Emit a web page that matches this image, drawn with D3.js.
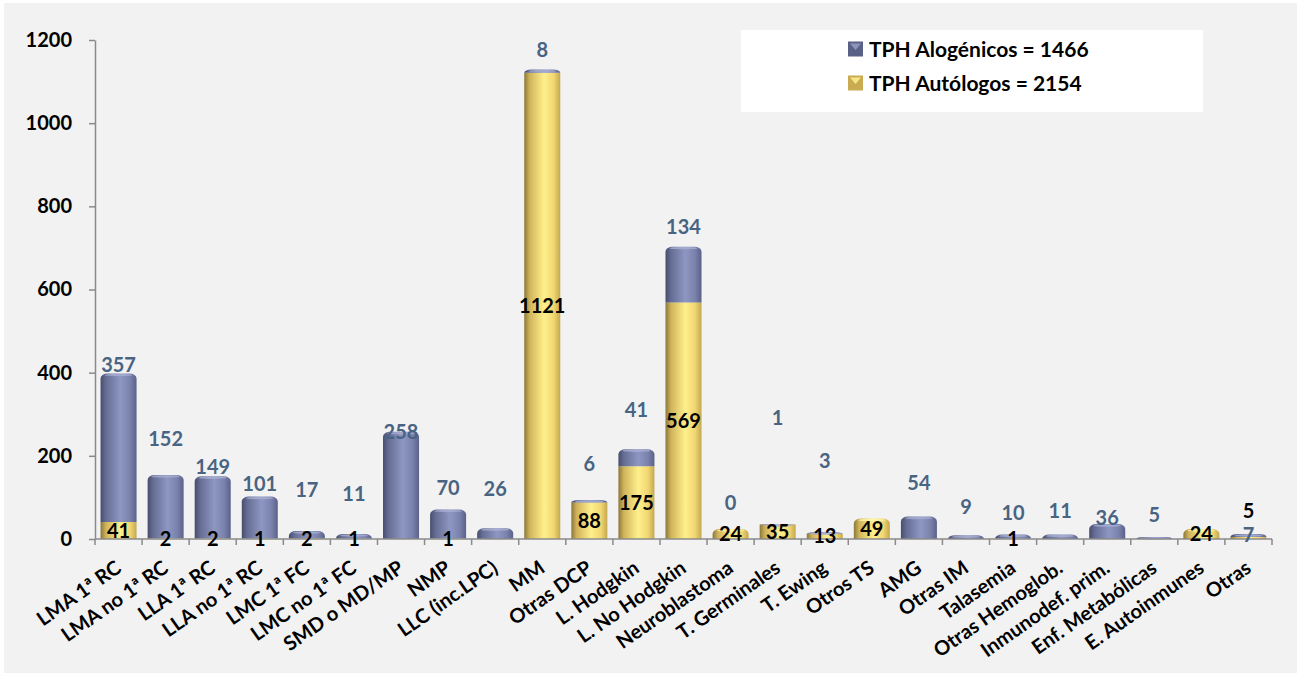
<!DOCTYPE html>
<html>
<head>
<meta charset="utf-8">
<script src="https://cdn.jsdelivr.net/npm/d3@7"></script>
<style>
  body { margin: 0; background: #fff; }
  text { font-family: Lato, 'Open Sans', sans-serif; font-weight: bold; }
</style>
</head>
<body>
<div id="chart"></div>
<script>
const categories = [
  'LMA 1ª RC', 'LMA no 1ª RC', 'LLA 1ª RC', 'LLA no 1ª RC', 'LMC 1ª FC', 'LMC no 1ª FC',
  'SMD o MD/MP', 'NMP', 'LLC (inc.LPC)', 'MM', 'Otras DCP', 'L. Hodgkin', 'L. No Hodgkin',
  'Neuroblastoma', 'T. Germinales', 'T. Ewing', 'Otros TS', 'AMG', 'Otras IM', 'Talasemia',
  'Otras Hemoglob.', 'Inmunodef. prim.', 'Enf. Metabólicas', 'E. Autoinmunes', 'Otras'
];
const alogenicos = [357, 152, 149, 101, 17, 11, 258, 70, 26, 8, 6, 41, 134, 0, 1, 3, 0, 54, 9, 10, 11, 36, 5, 0, 7];
const autologos  = [41, 2, 2, 1, 2, 1, 0, 1, 0, 1121, 88, 175, 569, 24, 35, 13, 49, 0, 0, 1, 0, 0, 0, 24, 5];
const yTicks = [0, 200, 400, 600, 800, 1000, 1200];
const legendLabels = ['TPH Alogénicos = 1466', 'TPH Autólogos = 2154'];

// where the data labels sit above the bar top, in px (null = label hidden), as in the original
const aloLabelLift = [9, 36, 9, 13, 41, 40, 0, 22, 39, 20, 36, 39, 20, 26, 106, 72, null, 34, 28, 22, 24, 6, 22, null, -1];
const autoLabelLift = [0, 0, 0, 0, 0, 0, 0, 0, 0, 0, 0, 0, 0, 0, 0, 0, 0, 0, 0, 0, 0, 0, 0, 0, 27];

const W = 1299, H = 675;
const margin = { left: 95, right: 27, top: 40, bottom: 136 };

const svg = d3.select('#chart').append('svg')
  .attr('width', W)
  .attr('height', H);

svg.append('rect')
  .attr('x', 4).attr('y', 3)
  .attr('width', 1293).attr('height', 670)
  .attr('fill', '#f2f2f2');

const defs = svg.append('defs');
function cylGradient(id, stops) {
  const g = defs.append('linearGradient').attr('id', id)
    .attr('x1', '0%').attr('x2', '100%').attr('y1', '0%').attr('y2', '0%');
  stops.forEach(s => g.append('stop').attr('offset', s[0]).attr('stop-color', s[1]));
}
cylGradient('gBlue', [['0%', '#474d6c'], ['15%', '#656d94'], ['55%', '#8e97c2'], ['82%', '#7a82ac'], ['100%', '#5a618a']]);
cylGradient('gYellow', [['0%', '#8a783a'], ['15%', '#d0b35a'], ['55%', '#fff08c'], ['82%', '#f1d671'], ['100%', '#c4a850']]);

const colors = { alo: 'url(#gBlue)', auto: 'url(#gYellow)' };
const capColors = { alo: '#a7aed2', auto: '#fff6b0' };

const x = d3.scaleBand()
  .domain(categories)
  .range([margin.left, W - margin.right])
  .paddingInner(0.235)
  .paddingOuter(0.1175);

const y = d3.scaleLinear()
  .domain([0, 1200])
  .range([H - margin.bottom, margin.top]);

const data = categories.map((c, i) => ({
  cat: c, alo: alogenicos[i], auto: autologos[i],
  aloLift: aloLabelLift[i], autoLift: autoLabelLift[i]
}));

// bars: autólogos below, alogénicos stacked on top, rounded cylinder top
const bw = x.bandwidth();
function topPath(x0, yTop, yBot, w) {
  const rx = Math.min(7, w / 2);
  const ry = Math.min(5, Math.max(0, yBot - yTop));
  return `M${x0},${yBot} L${x0},${yTop + ry} A${rx},${ry} 0 0 1 ${x0 + rx},${yTop} ` +
    `L${x0 + w - rx},${yTop} A${rx},${ry} 0 0 1 ${x0 + w},${yTop + ry} L${x0 + w},${yBot} Z`;
}

const bars = svg.append('g');
data.forEach(d => {
  const x0 = x(d.cat);
  const yAutoTop = y(d.auto);
  const yTop = y(d.auto + d.alo);
  const topKey = d.alo > 0 ? 'alo' : 'auto';
  if (d.auto > 0) {
    if (topKey === 'auto') {
      bars.append('path').attr('d', topPath(x0, yAutoTop, y(0), bw)).attr('fill', colors.auto);
    } else {
      bars.append('rect').attr('x', x0).attr('y', yAutoTop)
        .attr('width', bw).attr('height', y(0) - yAutoTop).attr('fill', colors.auto);
    }
  }
  if (d.alo > 0) {
    bars.append('path').attr('d', topPath(x0, yTop, yAutoTop, bw)).attr('fill', colors.alo);
  }
  if (d.alo + d.auto > 0) {
    bars.append('ellipse')
      .attr('cx', x0 + bw / 2).attr('cy', yTop + 1.5)
      .attr('rx', bw / 2 - 4).attr('ry', 1.2)
      .attr('fill', capColors[topKey]).attr('opacity', 0.8);
  }
});

// axes
const axisColor = '#8a8a8a';
const yAxis = svg.append('g')
  .attr('transform', `translate(${margin.left},0)`)
  .call(d3.axisLeft(y).tickValues(yTicks).tickFormat(d3.format('d'))
    .tickSize(6).tickPadding(17).tickSizeOuter(0));
yAxis.select('.domain').attr('stroke', axisColor).attr('stroke-width', 1.5);
yAxis.selectAll('.tick line').attr('stroke', axisColor).attr('stroke-width', 1.5);
yAxis.selectAll('.tick text').attr('fill', '#000').style('font-size', '20px').style('font-weight', 'bold')
  .style('font-family', "Lato, 'Open Sans', sans-serif");

const xAxisG = svg.append('g').attr('transform', `translate(0,${y(0)})`);
xAxisG.append('line')
  .attr('x1', margin.left).attr('x2', W - margin.right)
  .attr('stroke', axisColor).attr('stroke-width', 1.5);
const step = x.step();
const boundaries = categories.map(c => x(c) - step * 0.235 / 2).concat([W - margin.right]);
xAxisG.selectAll('.xt').data(boundaries).join('line')
  .attr('x1', d => d).attr('x2', d => d)
  .attr('y1', 0).attr('y2', 6)
  .attr('stroke', axisColor).attr('stroke-width', 1.5);

xAxisG.selectAll('.xl').data(categories).join('text')
  .attr('transform', d => `translate(${x(d) + bw / 2 + 4},32) rotate(-35)`)
  .attr('text-anchor', 'end')
  .style('font-size', '20px')
  .attr('fill', '#000')
  .text(d => d);

// data labels
const labels = svg.append('g').style('font-size', '20px');
labels.selectAll('.alo').data(data.filter(d => d.aloLift !== null)).join('text')
  .attr('x', d => x(d.cat) + bw / 2)
  .attr('y', d => y(d.alo + d.auto) - d.aloLift)
  .attr('dy', '0.36em')
  .attr('text-anchor', 'middle')
  .attr('fill', '#486482')
  .text(d => d.alo);

labels.selectAll('.auto').data(data.filter(d => d.auto > 0)).join('text')
  .attr('x', d => x(d.cat) + bw / 2)
  .attr('y', d => (y(d.auto) + y(0)) / 2 - d.autoLift)
  .attr('dy', '0.36em')
  .attr('text-anchor', 'middle')
  .attr('fill', '#000')
  .text(d => d.auto);

// legend
const legend = svg.append('g');
legend.append('rect')
  .attr('x', 741).attr('y', 30).attr('width', 462).attr('height', 82)
  .attr('fill', '#fff');
const legendFill = [['#5a6186', '#8c94bd'], ['#c9ac52', '#f8e58a']];
legendLabels.forEach((t, i) => {
  const cy = 49 + i * 34;
  legend.append('rect')
    .attr('x', 848).attr('y', cy - 7.5).attr('width', 15).attr('height', 15)
    .attr('fill', legendFill[i][0]);
  legend.append('path')
    .attr('d', `M${850},${cy - 5.5} L${861},${cy - 5.5} L${855.5},${cy + 1} Z`)
    .attr('fill', legendFill[i][1]);
  legend.append('text')
    .attr('x', 869).attr('y', cy)
    .attr('dy', '0.36em')
    .style('font-size', '21px')
    .attr('fill', '#000')
    .text(t);
});
</script>
</body>
</html>
